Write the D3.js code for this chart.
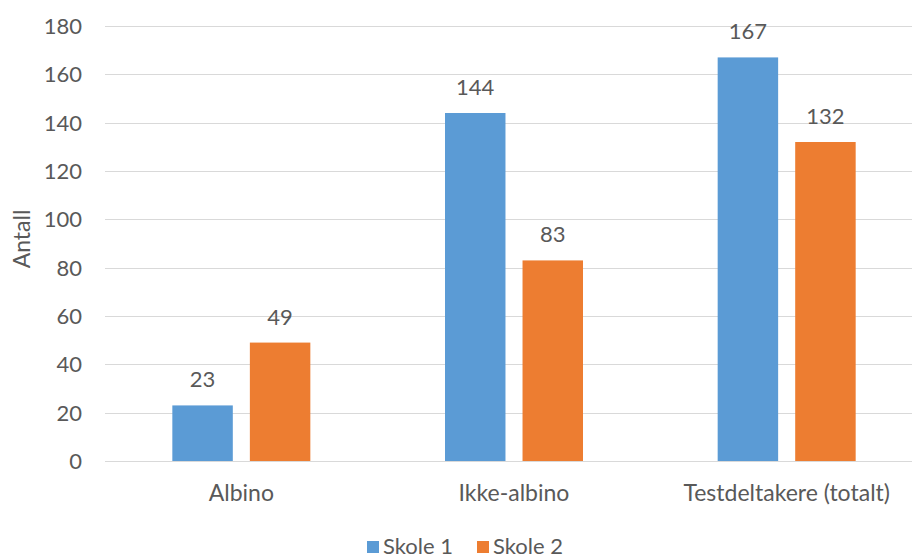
<!DOCTYPE html>
<html>
<head>
<meta charset="utf-8">
<script src="https://cdn.jsdelivr.net/npm/d3@7"></script>
<style>
  body { margin: 0; background: #fff; }
  text { font-family: Lato, "Open Sans", sans-serif; fill: #595959; }
</style>
</head>
<body>
<svg id="chart" width="912" height="557"></svg>
<script>
const categories = ["Albino", "Ikke-albino", "Testdeltakere (totalt)"];
const seriesNames = ["Skole 1", "Skole 2"];
const skole1 = [23, 144, 167];
const skole2 = [49, 83, 132];
const yTicks = [0, 20, 40, 60, 80, 100, 120, 140, 160, 180];
const colors = ["#5B9BD5", "#ED7D31"];

const width = 912, height = 557;
const plotLeft = 105, plotRight = 923, plotTop = 26, plotBottom = 461;

const svg = d3.select("#chart");

const x = d3.scaleBand().domain(categories).range([plotLeft, plotRight]);
const xs = d3.scaleBand().domain(seriesNames).range([0, 138]).paddingInner(0.22);
const y = d3.scaleLinear().domain([0, 180]).range([plotBottom, plotTop]);

// gridlines
svg.append("g")
  .selectAll("line")
  .data(yTicks)
  .join("line")
  .attr("x1", plotLeft)
  .attr("x2", plotRight)
  .attr("y1", d => Math.round(y(d)) + 0.5)
  .attr("y2", d => Math.round(y(d)) + 0.5)
  .attr("stroke", "#d9d9d9")
  .attr("stroke-width", 1.2);

// y tick labels
svg.append("g")
  .selectAll("text")
  .data(yTicks)
  .join("text")
  .attr("x", 82)
  .attr("y", d => y(d))
  .attr("dy", "0.36em")
  .attr("text-anchor", "end")
  .style("font-size", "22px")
  .text(d => d);

// bars
const groups = categories.map((c, i) => ({cat: c, vals: [skole1[i], skole2[i]]}));
const g = svg.append("g")
  .selectAll("g")
  .data(groups)
  .join("g")
  .attr("transform", d => `translate(${x(d.cat) + x.bandwidth() / 2 - 69},0)`);

g.selectAll("rect")
  .data(d => d.vals.map((v, i) => ({name: seriesNames[i], v, i})))
  .join("rect")
  .attr("x", d => xs(d.name))
  .attr("width", xs.bandwidth())
  .attr("y", d => y(d.v))
  .attr("height", d => y(0) - y(d.v))
  .attr("fill", d => colors[d.i]);

g.selectAll("text")
  .data(d => d.vals.map((v, i) => ({name: seriesNames[i], v, i})))
  .join("text")
  .attr("x", d => xs(d.name) + xs.bandwidth() / 2)
  .attr("y", d => y(d.v) - 18)
  .attr("text-anchor", "middle")
  .style("font-size", "22px")
  .text(d => d.v);

// category labels
svg.append("g")
  .selectAll("text")
  .data(categories)
  .join("text")
  .attr("x", d => x(d) + x.bandwidth() / 2)
  .attr("y", 501)
  .attr("text-anchor", "middle")
  .style("font-size", "23px")
  .text(d => d);

// y axis title
svg.append("text")
  .attr("transform", "translate(30,239) rotate(-90)")
  .attr("text-anchor", "middle")
  .style("font-size", "23px")
  .text("Antall");

// legend
const legendX = [367, 477];
const lg = svg.append("g")
  .selectAll("g")
  .data(seriesNames)
  .join("g")
  .attr("transform", (d, i) => `translate(${legendX[i]},541)`);
lg.append("rect")
  .attr("width", 12)
  .attr("height", 12)
  .attr("fill", (d, i) => colors[i]);
lg.append("text")
  .attr("x", 16)
  .attr("y", 12.5)
  .style("font-size", "22px")
  .text(d => d);
</script>
</body>
</html>
